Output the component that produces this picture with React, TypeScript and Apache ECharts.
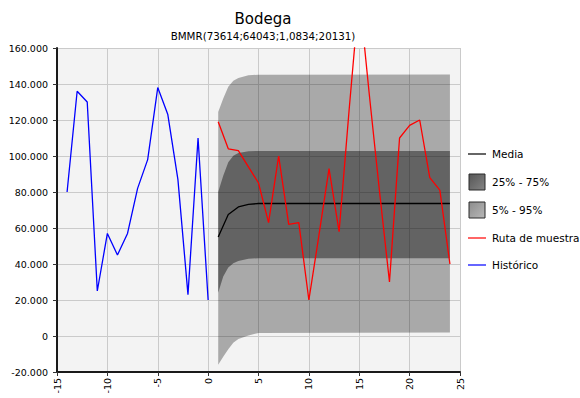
import React, { useEffect, useRef } from 'react';
import * as echarts from 'echarts';

// Historic series (x = period, value)
const historicX = [-14, -13, -12, -11, -10, -9, -8, -7, -6, -5, -4, -3, -2, -1, 0];
const historicValues = [80000, 136000, 130000, 25000, 57000, 45000, 57000, 82000, 98000, 138000, 123000, 87000, 23000, 110000, 20000];

// Sample path (Ruta de muestra)
const sampleX = [1, 2, 3, 4, 5, 6, 7, 8, 9, 10, 11, 12, 13, 14, 15, 16, 17, 18, 19, 20, 21, 22, 23, 24];
const sampleValues = [119000, 104000, 103000, 94000, 85000, 63000, 100000, 62000, 63000, 20000, 56000, 93000, 58000, 126000, 190000, 134000, 81000, 30000, 110000, 117000, 120000, 88000, 81000, 40000];

// Mean (Media)
const meanValues = [55000, 67500, 71700, 73100, 73614, 73614, 73614, 73614, 73614, 73614, 73614, 73614, 73614, 73614, 73614, 73614, 73614, 73614, 73614, 73614, 73614, 73614, 73614, 73614];

// Percentile bands
const bandX = [1, 1.5, 2, 2.5, 3, 4, 5, 24];
const p5 = [-16000, -11500, -7300, -3800, -1600, 300, 1700, 1900];
const p25 = [24000, 33000, 38000, 40400, 41700, 42900, 43200, 43200];
const p75 = [80000, 89000, 96500, 100200, 101600, 102600, 102800, 102800];
const p95 = [124500, 132000, 138500, 141800, 143300, 144800, 145200, 145300];

const yTicks = [-20000, 0, 20000, 40000, 60000, 80000, 100000, 120000, 140000, 160000];

const titleText = 'Bodega';
const subtitleText = 'BMMR(73614;64043;1,0834;20131)';
const legendNames = ['Media', '25% - 75%', '5% - 95%', 'Ruta de muestra', 'Histórico'];

const FONT = '"DejaVu Sans", Verdana, sans-serif';

function fmtThousands(v: number): string {
  if (v === 0) return '0';
  const sign = v < 0 ? '-' : '';
  const a = Math.abs(v);
  const th = Math.floor(a / 1000);
  const rest = a % 1000;
  return sign + th + '.' + String(rest).padStart(3, '0');
}

function bandSeries(name: string, lower: number[], upper: number[], fill: string) {
  return {
    name,
    type: 'custom',
    silent: true,
    data: [[bandX[0], lower[0]]],
    renderItem: (_params: any, api: any) => {
      const pts: number[][] = [];
      for (let i = 0; i < bandX.length; i++) pts.push(api.coord([bandX[i], upper[i]]));
      for (let i = bandX.length - 1; i >= 0; i--) pts.push(api.coord([bandX[i], lower[i]]));
      return {
        type: 'polygon',
        shape: { points: pts },
        style: { fill, stroke: 'none' },
      };
    },
  };
}

export default function App() {
  const ref = useRef<HTMLDivElement>(null);

  useEffect(() => {
    if (!ref.current) return;
    const chart = echarts.init(ref.current, undefined, { renderer: 'svg' });

    const pair = (xs: number[], ys: number[]) => xs.map((x, i) => [x, ys[i]]);

    const legendX = 468;
    const textX = 492;
    const legendText = (text: string, y: number) => ({
      type: 'text',
      x: textX,
      y,
      style: { text, fill: '#000', font: `10.5px ${FONT}`, verticalAlign: 'middle', textAlign: 'left' },
    });
    const legendLine = (color: string, y: number) => ({
      type: 'line',
      shape: { x1: legendX, y1: y, x2: legendX + 18, y2: y },
      style: { stroke: color, lineWidth: 1.2 },
    });
    const legendBox = (c1: string, c2: string, y: number) => ({
      type: 'rect',
      shape: { x: legendX + 1, y, width: 16, height: 16 },
      style: {
        fill: new echarts.graphic.LinearGradient(0, 0, 1, 1, [
          { offset: 0, color: c1 },
          { offset: 1, color: c2 },
        ]),
        stroke: '#2a2a2a',
        lineWidth: 1,
      },
    });

    chart.setOption({
      animation: false,
      backgroundColor: '#ffffff',
      title: {
        text: titleText,
        subtext: subtitleText,
        left: 258,
        top: 6,
        textAlign: 'center',
        itemGap: 5,
        textStyle: { fontFamily: FONT, fontSize: 15, fontWeight: 'normal', color: '#000' },
        subtextStyle: { fontFamily: FONT, fontSize: 10.3, color: '#000' },
      },
      grid: {
        left: 57,
        top: 48,
        width: 403,
        height: 324,
        show: true,
        backgroundColor: '#f3f3f3',
        borderWidth: 0,
      },
      xAxis: {
        type: 'value',
        min: -15,
        max: 25,
        interval: 5,
        axisLine: { show: true, onZero: false, lineStyle: { color: '#1a1a1a', width: 2 } },
        axisTick: { show: true, length: 4, lineStyle: { color: '#333' } },
        axisLabel: { rotate: 90, fontFamily: FONT, fontSize: 9.5, color: '#000', margin: 6 },
        splitLine: { show: true, lineStyle: { color: '#cacaca', width: 1 } },
      },
      yAxis: {
        type: 'value',
        min: -20000,
        max: 160000,
        interval: 20000,
        axisLine: { show: true, onZero: false, lineStyle: { color: '#1a1a1a', width: 2 } },
        axisTick: { show: true, length: 4, lineStyle: { color: '#333' } },
        axisLabel: {
          fontFamily: FONT,
          fontSize: 9.5,
          color: '#000',
          margin: 9,
          formatter: (v: number) => (yTicks.includes(v) ? fmtThousands(v) : ''),
        },
        splitLine: { show: true, lineStyle: { color: '#cacaca', width: 1 } },
      },
      series: [
        bandSeries('5% - 95%', p5, p95, 'rgba(0,0,0,0.30)'),
        bandSeries('25% - 75%', p25, p75, 'rgba(0,0,0,0.41)'),
        {
          name: 'Media',
          type: 'line',
          data: pair(sampleX, meanValues),
          symbol: 'none',
          lineStyle: { color: '#000', width: 1.3 },
        },
        {
          name: 'Ruta de muestra',
          type: 'line',
          data: pair(sampleX, sampleValues),
          symbol: 'none',
          clip: true,
          lineStyle: { color: '#ff0000', width: 1.3 },
        },
        {
          name: 'Histórico',
          type: 'line',
          data: pair(historicX, historicValues),
          symbol: 'none',
          lineStyle: { color: '#0000ff', width: 1.3 },
        },
      ],
      graphic: [
        legendLine('#000000', 154),
        legendText(legendNames[0], 154),
        legendBox('#565656', '#858585', 174),
        legendText(legendNames[1], 182),
        legendBox('#8c8c8c', '#b8b8b8', 202),
        legendText(legendNames[2], 210),
        legendLine('#ff0000', 238),
        legendText(legendNames[3], 238),
        legendLine('#0000ff', 265),
        legendText(legendNames[4], 265),
      ],
    });

    return () => chart.dispose();
  }, []);

  return (
    <div
      ref={ref}
      style={{ position: 'fixed', left: 0, top: 0, width: 580, height: 398, background: '#fff' }}
    />
  );
}
